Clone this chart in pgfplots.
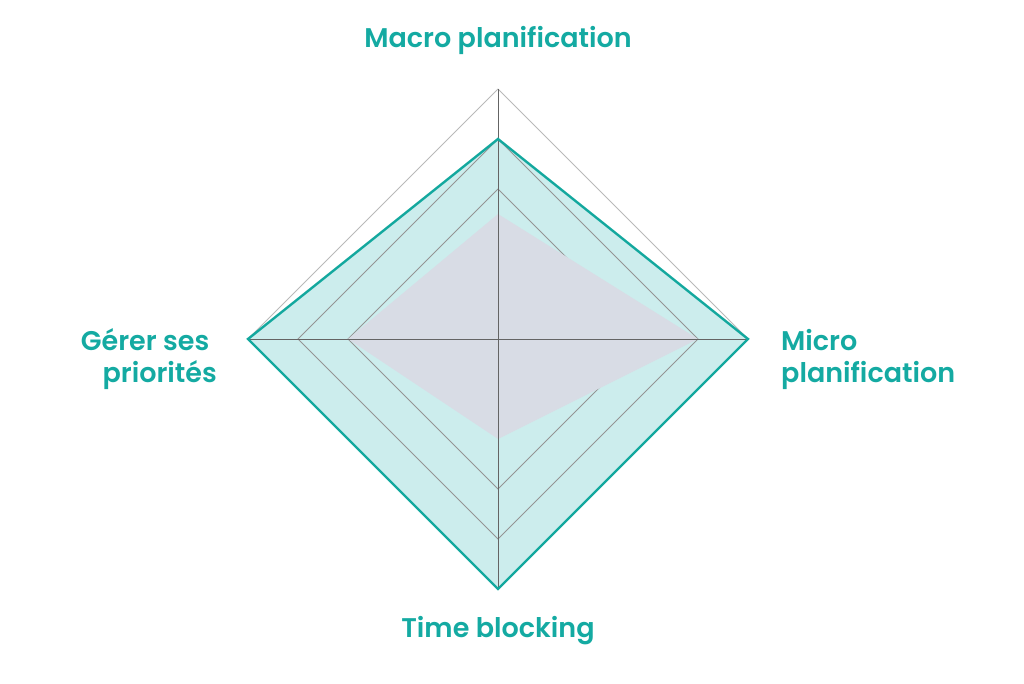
\documentclass[border=0pt]{standalone}
\usepackage{pgfplots}
\pgfplotsset{compat=1.18}
\usepackage{fontspec}
\setmainfont{Poppins}[UprightFont=* SemiBold]
\definecolor{tealline}{RGB}{19,168,158}
\definecolor{tealfill}{RGB}{204,237,237}
\definecolor{grayfill}{RGB}{216,220,229}
\definecolor{labcol}{RGB}{20,170,162}
\definecolor{ringcol}{RGB}{185,185,185}
\definecolor{spokecol}{RGB}{100,100,100}
\begin{document}
\begin{tikzpicture}
\begin{axis}[width=1024pt,height=683pt,scale only axis,hide axis,
  xmin=-9.96,xmax=10.52,ymin=-6.88,ymax=6.78,clip=false]
\path (rel axis cs:0,0) rectangle (rel axis cs:1,1);
% teal fill
\addplot[fill=tealfill, draw=none] coordinates {(0,4)(5,0)(0,-5)(-5,0)} --cycle;
% rings
\addplot[draw=ringcol, line width=0.8pt] coordinates {(0,5)(5,0)(0,-5)(-5,0)(0,5)};
\addplot[draw=ringcol!80!black, line width=0.8pt] coordinates {(0,4)(4,0)(0,-4)(-4,0)(0,4)};
\addplot[draw=ringcol!80!black, line width=0.8pt] coordinates {(0,3)(3,0)(0,-3)(-3,0)(0,3)};
% gray series
\addplot[fill=grayfill, draw=none] coordinates {(0,2.5)(4,0)(0,-2)(-3,0)} --cycle;
% spokes
\addplot[draw=spokecol, line width=0.8pt] coordinates {(0,5)(0,-5)};
\addplot[draw=spokecol, line width=0.8pt] coordinates {(-5,0)(5,0)};
% teal outline
\addplot[draw=tealline, line width=2.4pt, line join=miter] coordinates {(0,4)(5,0)(0,-5)(-5,0)} --cycle;
% labels
\node[anchor=base, text=labcol, font=\fontsize{27}{33}\selectfont] at (axis cs:0,5.82) {Macro planification};
\node[anchor=base, text=labcol, font=\fontsize{27}{33}\selectfont] at (axis cs:0,-5.96) {Time blocking};
\node[anchor=base west, text=labcol, font=\fontsize{27}{33}\selectfont, align=left, inner sep=0pt] at (axis cs:5.66,-0.88) {Micro\\planification};
\node[anchor=base east, text=labcol, font=\fontsize{27}{33}\selectfont, align=right, inner sep=0pt] at (axis cs:-5.62,-0.88) {Gérer ses\kern0.28em\\priorités};
\end{axis}
\end{tikzpicture}
\end{document}
